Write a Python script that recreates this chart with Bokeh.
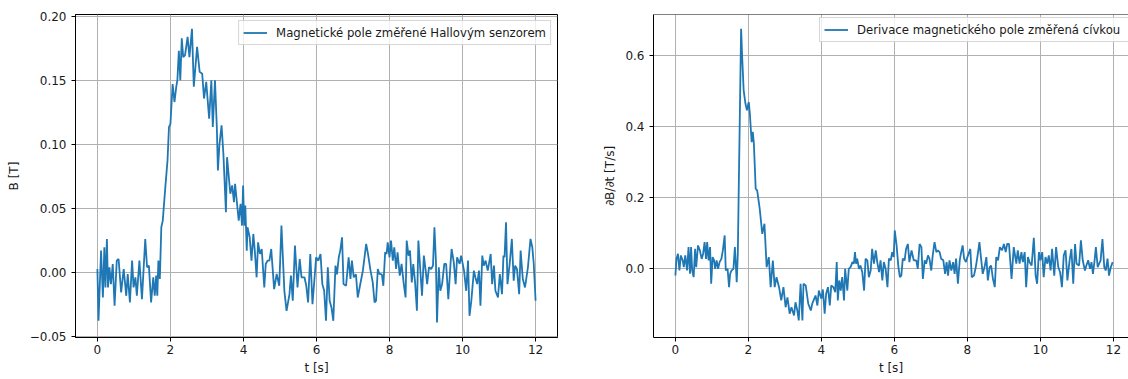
from bokeh.plotting import figure
from bokeh.layouts import row
from bokeh.models import Range1d, FixedTicker, CustomJSTickFormatter, Legend, LegendItem, Span
from bokeh.embed import file_html
from bokeh.resources import INLINE

# ---------------- data ----------------
# Left: magnetic field measured by the Hall sensor
t_hall = [
    0.00, 0.03, 0.10, 0.15, 0.19, 0.22, 0.26, 0.29, 0.33, 0.37,
    0.42, 0.47, 0.53, 0.58, 0.65, 0.72, 0.79, 0.83, 0.89, 0.95,
    0.99, 1.04, 1.08, 1.15, 1.22, 1.31, 1.36, 1.41, 1.47, 1.53,
    1.57, 1.61, 1.64, 1.67, 1.71, 1.75, 1.79, 1.86, 1.92, 1.96,
    2.00, 2.06, 2.11, 2.16, 2.19, 2.23, 2.27, 2.31, 2.35, 2.40,
    2.47, 2.52, 2.59, 2.64, 2.73, 2.80, 2.87, 2.92, 2.98, 3.06,
    3.12, 3.16, 3.22, 3.27, 3.30, 3.34, 3.40, 3.45, 3.52, 3.55,
    3.64, 3.69, 3.74, 3.77, 3.87, 3.92, 3.96, 3.99, 4.02, 4.05,
    4.09, 4.11, 4.17, 4.22, 4.27, 4.31, 4.36, 4.40, 4.45, 4.50,
    4.57, 4.61, 4.66, 4.71, 4.76, 4.84, 4.91, 4.98, 5.04, 5.12,
    5.18, 5.26, 5.30, 5.35, 5.41, 5.48, 5.54, 5.59, 5.67, 5.72,
    5.77, 5.83, 5.89, 5.94, 5.99, 6.05, 6.11, 6.16, 6.21, 6.26,
    6.31, 6.36, 6.41, 6.46, 6.52, 6.56, 6.61, 6.65, 6.70, 6.74,
    6.81, 6.88, 6.93, 6.97, 7.02, 7.08, 7.13, 7.19, 7.27, 7.36,
    7.41, 7.48, 7.54, 7.59, 7.63, 7.68, 7.72, 7.79, 7.83, 7.88,
    7.92, 7.95, 8.00, 8.04, 8.09, 8.13, 8.18, 8.22, 8.28, 8.33,
    8.39, 8.44, 8.47, 8.52, 8.56, 8.61, 8.65, 8.70, 8.75, 8.79,
    8.85, 8.89, 8.94, 8.99, 9.03, 9.08, 9.14, 9.19, 9.23, 9.27,
    9.30, 9.35, 9.39, 9.44, 9.50, 9.55, 9.61, 9.67, 9.70, 9.76,
    9.81, 9.85, 9.92, 9.96, 10.04, 10.10, 10.15, 10.19, 10.24, 10.31,
    10.35, 10.40, 10.45, 10.49, 10.54, 10.58, 10.63, 10.69, 10.77, 10.81,
    10.86, 10.90, 10.97, 11.02, 11.08, 11.12, 11.15, 11.19, 11.23, 11.29,
    11.35, 11.40, 11.44, 11.49, 11.55, 11.59, 11.65, 11.71, 11.79, 11.86,
    11.91, 11.95, 12.00,
]
B_hall = [
    0.0029, -0.0375, 0.0172, -0.0193, 0.0198, -0.0115, 0.0263, -0.0115, 0.0042, -0.0089,
    0.0068, -0.0258, 0.0094, 0.0107, -0.0154, 0.0029, -0.0180, -0.0010, -0.0232, 0.0094,
    -0.0115, -0.0036, -0.0180, 0.0094, -0.0206, 0.0263, 0.0042, 0.0055, -0.0232, -0.0036,
    -0.0180, -0.0023, -0.0180, 0.0094, -0.0049, 0.0354, 0.0406, 0.0667, 0.0875, 0.1135,
    0.1160, 0.1470, 0.1330, 0.1450, 0.1500, 0.1730, 0.1500, 0.1826, 0.1680, 0.1695,
    0.1838, 0.1680, 0.1900, 0.1450, 0.1760, 0.1565, 0.1550, 0.1357, 0.1487, 0.1200,
    0.1500, 0.1135, 0.1500, 0.1135, 0.0797, 0.0992, 0.1148, 0.0927, 0.0471, 0.0900,
    0.0615, 0.0680, 0.0550, 0.0693, 0.0406, 0.0536, 0.0367, 0.0680, 0.0367, 0.0523,
    0.0172, 0.0354, 0.0276, 0.0094, 0.0302, 0.0172, -0.0036, 0.0237, 0.0146, 0.0185,
    -0.0115, 0.0068, 0.0094, 0.0094, 0.0185, -0.0128, -0.0010, -0.0102, 0.0367, -0.0141,
    -0.0297, -0.0167, -0.0023, -0.0219, 0.0211, -0.0115, 0.0107, -0.0036, -0.0036, -0.0102,
    -0.0232, 0.0146, -0.0245, -0.0063, 0.0120, 0.0094, 0.0146, -0.0089, -0.0141, -0.0375,
    0.0042, -0.0219, -0.0271, -0.0375, 0.0055, -0.0013, 0.0120, 0.0172, 0.0276, -0.0089,
    -0.0102, 0.0120, -0.0049, 0.0094, -0.0036, -0.0013, -0.0193, -0.0102, 0.0016, 0.0224,
    0.0146, 0.0016, -0.0076, -0.0232, -0.0219, 0.0029, -0.0010, -0.0013, -0.0102, 0.0159,
    0.0146, 0.0237, 0.0120, 0.0250, 0.0094, 0.0198, 0.0029, 0.0159, -0.0023, 0.0068,
    -0.0089, -0.0193, 0.0250, 0.0133, 0.0172, -0.0076, 0.0068, -0.0076, -0.0297, 0.0250,
    -0.0010, -0.0180, 0.0133, 0.0016, -0.0089, 0.0042, 0.0029, 0.0055, 0.0354, 0.0094,
    -0.0388, 0.0042, -0.0141, -0.0089, 0.0068, 0.0068, -0.0206, 0.0068, 0.0185, 0.0081,
    -0.0089, 0.0120, 0.0068, 0.0133, 0.0016, -0.0141, 0.0094, -0.0336, -0.0219, 0.0016,
    -0.0036, -0.0089, 0.0016, -0.0258, 0.0133, 0.0055, 0.0094, 0.0016, 0.0146, -0.0089,
    0.0055, -0.0141, -0.0193, -0.0010, -0.0167, 0.0133, 0.0120, 0.0393, -0.0089, 0.0068,
    0.0263, -0.0063, 0.0055, 0.0029, -0.0167, 0.0172, -0.0049, -0.0115, 0.0042, 0.0263,
    0.0198, 0.0068, -0.0219,
]

# Right: derivative of the magnetic field measured by the coil
t_coil = [
    0.00, 0.03, 0.07, 0.11, 0.15, 0.20, 0.23, 0.27, 0.32, 0.36,
    0.40, 0.43, 0.46, 0.50, 0.54, 0.57, 0.62, 0.67, 0.72, 0.76,
    0.80, 0.84, 0.87, 0.91, 0.95, 0.98, 1.02, 1.06, 1.09, 1.13,
    1.17, 1.21, 1.26, 1.30, 1.35, 1.38, 1.43, 1.47, 1.50, 1.54,
    1.59, 1.63, 1.68, 1.71, 1.80, 1.83, 1.87, 1.92, 1.96,
    2.01, 2.04, 2.09, 2.12, 2.15, 2.20, 2.24, 2.31, 2.38, 2.44,
    2.50, 2.56, 2.61, 2.67, 2.72, 2.77, 2.84, 2.90, 2.96, 3.02,
    3.07, 3.13, 3.18, 3.25, 3.29, 3.34, 3.38, 3.43, 3.48, 3.51,
    3.57, 3.64, 3.71, 3.75,
    3.84, 3.89, 3.93, 4.00, 4.04, 4.09, 4.13, 4.18, 4.23, 4.27,
    4.33, 4.38, 4.42, 4.45, 4.49, 4.53, 4.57, 4.62, 4.65, 4.71,
    4.75, 4.80, 4.85, 4.89, 4.92, 4.95, 4.98, 5.03, 5.07, 5.12,
    5.17, 5.21, 5.26, 5.30, 5.35, 5.39, 5.44, 5.49, 5.53, 5.58,
    5.62, 5.67, 5.71, 5.76, 5.81, 5.85, 5.90, 5.94, 5.98, 6.01,
    6.06, 6.11, 6.15, 6.19, 6.23, 6.28, 6.32, 6.37, 6.41, 6.47,
    6.53, 6.60, 6.64, 6.69, 6.74, 6.78, 6.83, 6.87, 6.92, 6.96,
    7.01, 7.05, 7.10, 7.15, 7.19, 7.24, 7.28, 7.34, 7.39, 7.43,
    7.47, 7.51, 7.56, 7.61, 7.65, 7.69, 7.74, 7.79, 7.83, 7.87,
    7.91, 7.96, 8.00,
    8.08, 8.12, 8.18, 8.23, 8.28, 8.33, 8.38, 8.42, 8.47, 8.52,
    8.56, 8.61, 8.65, 8.70, 8.75, 8.79, 8.84, 8.89, 8.95, 9.00,
    9.05, 9.09, 9.14, 9.21, 9.27, 9.34, 9.38, 9.43, 9.48, 9.52,
    9.57, 9.61, 9.66, 9.70, 9.76, 9.82, 9.87, 9.91, 9.96, 10.00,
    10.05, 10.09, 10.14, 10.19, 10.23, 10.28, 10.32, 10.38, 10.43, 10.49,
    10.54, 10.59, 10.64, 10.69, 10.74, 10.80, 10.85, 10.90, 10.95, 10.99,
    11.06, 11.11, 11.16, 11.22, 11.26, 11.31, 11.36, 11.40, 11.44, 11.48,
    11.52, 11.57, 11.61, 11.65, 11.70, 11.75, 11.79, 11.84, 11.88, 11.93,
    11.98,
]
dB_coil = [
    -0.0186, 0.0280, 0.0425, -0.0045, 0.0377, 0.0236, 0.0048, 0.0377, -0.0045, 0.0610,
    -0.0138, 0.0610, -0.0045, -0.0234, 0.0563, 0.0048, 0.0658, 0.0518, 0.0280, 0.0425,
    0.0750, 0.0280, 0.0750, 0.0236, 0.0610, -0.0420, 0.0330, 0.0236, 0.0000, 0.0236,
    0.0000, 0.0189, 0.0280, 0.0518, 0.0940, -0.0045, 0.0000, -0.0516, -0.0138, -0.0045,
    0.0000, 0.0610, -0.0375, 0.0425, 0.6750, 0.5950, 0.5020, 0.4640, 0.4460,
    0.4690, 0.4360, 0.3560, 0.3850, 0.3520, 0.2250, 0.2205, 0.1690, 0.0985, 0.1266,
    0.0048, 0.0330, -0.0516, 0.0236, -0.0516, -0.0234, -0.0516, -0.0889, -0.0516, -0.1080,
    -0.0800, -0.1260, -0.1080, -0.1310, -0.0940, -0.1170, -0.1450, -0.0420, -0.1450, -0.0420,
    -0.0467, -0.0980, -0.1170, -0.0980,
    -0.0750, -0.1030, -0.0610, -0.0840, -0.0580, -0.1260, -0.0700, -0.0515, -0.1030, -0.0470,
    -0.0515, -0.0656, 0.0190, -0.0890, -0.0326, -0.0610, -0.0234, -0.0890, 0.0003, -0.0610,
    0.0000, 0.0050, 0.0190, 0.0145, 0.0470, 0.0145, 0.0286, 0.0000, 0.0094, -0.0094,
    -0.0610, 0.0286, 0.0240, -0.0234, -0.0047, 0.0560, 0.0145, 0.0520, 0.0190, -0.0094,
    0.0240, -0.0326, 0.0190, 0.0000, -0.0515, 0.0286, 0.0240, 0.0470, 0.0330, 0.1080,
    0.0660, 0.0050, -0.0234, -0.0190, 0.0286, 0.0240, 0.0560, 0.0700, 0.0190, 0.0520,
    0.0240, 0.0240, 0.0000, 0.0700, 0.0610, -0.0281, 0.0240, 0.0145, 0.0380, 0.0286,
    -0.0047, 0.0380, 0.0750, 0.0470, 0.0520, 0.0470, 0.0286, 0.0240, -0.0140, 0.0190,
    -0.0190, 0.0240, -0.0047, 0.0190, -0.0140, 0.0286, -0.0420, 0.0240, 0.0470, 0.0660,
    0.0286, 0.0190, 0.0330,
    0.0560, -0.0234, -0.0190, 0.0050, 0.0380, 0.0750, 0.0240, -0.0140, 0.0050, 0.0330,
    -0.0326, 0.0050, 0.0094, -0.0281, -0.0515, 0.0330, 0.0240, 0.0610, 0.0520, 0.0700,
    0.0470, 0.0700, 0.0700, -0.0281, 0.0610, 0.0145, 0.0520, 0.0145, 0.0470, 0.0190,
    0.0470, -0.0515, 0.0330, 0.0190, 0.0094, 0.0870, -0.0190, -0.0420, 0.0470, 0.0240,
    0.0470, -0.0234, 0.0330, 0.0145, 0.0380, -0.0047, 0.0560, -0.0190, 0.0610, 0.0050,
    -0.0094, -0.0515, 0.0380, 0.0520, -0.0326, 0.0240, 0.0560, -0.0420, 0.0700, 0.0145,
    0.0094, 0.0800, 0.0240, -0.0047, 0.0094, 0.0240, 0.0000, 0.0190, -0.0140, 0.0190,
    0.0610, 0.0050, 0.0145, 0.0240, 0.0840, 0.0050, -0.0047, 0.0286, -0.0190, 0.0050,
    0.0190,
]

x_ticks = [0, 2, 4, 6, 8, 10, 12]
y_ticks_hall = [-0.05, 0.0, 0.05, 0.10, 0.15, 0.20]
y_ticks_coil = [0.0, 0.2, 0.4, 0.6]

label_hall = "Magnetické pole změřené Hallovým senzorem"
label_coil = "Derivace magnetického pole změřená cívkou"
xlabel = "t [s]"
ylabel_hall = "B [T]"
ylabel_coil = "∂B/∂t [T/s]"

assert len(t_hall) == len(B_hall)
assert len(t_coil) == len(dB_coil)

FONT = "DejaVu Sans"
LINE = "#1f77b4"
TXT = "#1a1a1a"
FS = "12px"


def fmt(decimals):
    return CustomJSTickFormatter(code="""
        const s = Math.abs(tick).toFixed(%d);
        return (tick < -1e-9 ? '\\u2212' : '') + s;
    """ % decimals)


def make_fig(frame_w, mbl, mbr, xr, yr, yticks, ydec, ylabel, ylab_standoff):
    p = figure(frame_width=frame_w, frame_height=323,
               min_border_left=mbl, min_border_right=mbr,
               min_border_top=14, min_border_bottom=42,
               x_range=Range1d(*xr), y_range=Range1d(*yr),
               output_backend="svg", toolbar_location=None,
               background_fill_color="white", border_fill_color="white")
    for g in (p.xgrid, p.ygrid):
        g.grid_line_color = "#b0b0b0"
        g.grid_line_width = 1
    p.xaxis.ticker = FixedTicker(ticks=x_ticks)
    p.yaxis.ticker = FixedTicker(ticks=yticks)
    p.xaxis.formatter = fmt(0)
    p.yaxis.formatter = fmt(ydec)
    p.xaxis.axis_label = xlabel
    p.yaxis.axis_label = ylabel
    for ax in p.axis:
        ax.axis_line_color = "black"
        ax.axis_line_width = 1
        ax.major_tick_line_color = "black"
        ax.major_tick_line_width = 1
        ax.major_tick_out = 4
        ax.major_tick_in = 0
        ax.minor_tick_line_color = None
        ax.major_label_text_font = FONT
        ax.major_label_text_font_size = FS
        ax.major_label_text_color = TXT
        ax.axis_label_text_font = FONT
        ax.axis_label_text_font_size = FS
        ax.axis_label_text_font_style = "normal"
        ax.axis_label_text_color = TXT
    p.xaxis.major_label_standoff = 3
    p.yaxis.major_label_standoff = 5
    p.xaxis.axis_label_standoff = 4
    p.yaxis.axis_label_standoff = ylab_standoff
    p.outline_line_color = "black"
    p.outline_line_width = 1
    return p


def style_legend(leg):
    leg.label_text_font = FONT
    leg.label_text_font_size = "11.7px"
    leg.label_text_color = TXT
    leg.border_line_color = "#cccccc"
    leg.border_line_alpha = 0.8
    leg.border_line_width = 1
    leg.background_fill_color = "white"
    leg.background_fill_alpha = 0.8
    leg.padding = 4
    leg.spacing = 0
    leg.glyph_width = 24
    leg.glyph_height = 15
    leg.label_height = 15
    leg.label_standoff = 9


# Left figure
p1 = make_fig(482, 75, 43, (-0.6, 12.6), (-0.0505, 0.2012), y_ticks_hall, 2, ylabel_hall, 6)
r1 = p1.line(t_hall, B_hall, line_color=LINE, line_width=1.8)
leg1 = Legend(items=[LegendItem(label=label_hall, renderers=[r1])],
              location="top_right", margin=6)
style_legend(leg1)
p1.add_layout(leg1, "center")

# Right figure (cut off at the window's right edge, like the reference)
p2 = make_fig(475, 53, 0, (-0.6, 12.414), (-0.193, 0.715), y_ticks_coil, 1, ylabel_coil, 5)
p2.outline_line_color = None
p2.add_layout(Span(location=0.715, dimension="width", line_color="black", line_width=1))
r2 = p2.line(t_coil, dB_coil, line_color=LINE, line_width=1.8)
leg2 = Legend(items=[LegendItem(label=label_coil, renderers=[r2])],
              location=(166, 295), margin=0)
style_legend(leg2)
leg2.label_width = 285  # box runs past the window edge, as in the reference
p2.add_layout(leg2, "center")

layout = row(p1, p2)
open("out.html", "w").write(file_html(layout, INLINE))
